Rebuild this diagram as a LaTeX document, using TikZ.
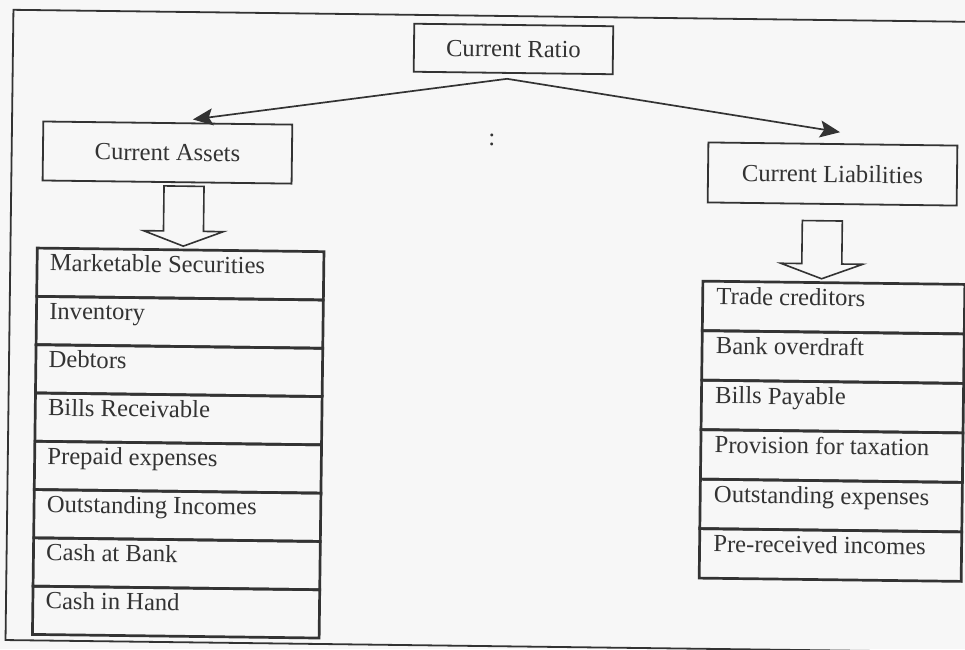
\documentclass[tikz,border=0pt]{standalone}
\usepackage{fontspec}
\setmainfont{Liberation Serif}
\usetikzlibrary{calc,arrows.meta}
\definecolor{ink}{gray}{0.2}
\definecolor{paper}{gray}{0.97}
\begin{document}
\begin{tikzpicture}[x=1pt,y=-1pt,
  every node/.style={font=\fontsize{24.6}{29}\selectfont, text=ink},
  frame/.style={draw=ink, line width=1.8pt},
  topbox/.style={draw=ink, line width=1.8pt, inner sep=0pt},
  rowbox/.style={draw=ink, line width=2.7pt, inner sep=0pt, anchor=north west},
  itemtext/.style={anchor=base west, inner sep=0pt},
  link/.style={draw=ink, line width=1.7pt, -{Stealth[length=20pt,width=17pt,inset=4pt]}},
  blockarrow/.style={draw=ink, line width=1.6pt, fill=paper, line join=miter}]
\fill[paper] (0,0) rectangle (965,649);
\useasboundingbox (0,0) rectangle (965,649);
\clip (0,0) rectangle (965,649);
\begin{scope}[transform canvas={rotate around={-0.72:(482,325)}}]
  % outer frame
  \draw[frame] (9.5,15.7) rectangle (990,646);

  % headings
  \node[topbox, minimum width=199pt, minimum height=48pt] (cr) at (510,48.6) {Current Ratio};
  \node[topbox, minimum width=249pt, minimum height=59pt] (ca) at (165.3,156.5) {Current Assets};
  \node[topbox, minimum width=249pt, minimum height=60pt] (cl) at (830.6,169.6) {Current Liabilities};
  \node[inner sep=0pt] (sep) at (489.6,140.2) {:};

  % split arrows
  \coordinate (apex) at ($(cr.south)+(-6,5)$);
  \coordinate (caEnd) at ($(ca.north)+(25,-3)$);
  \coordinate (clEnd) at ($(cl.north)+(7,-11)$);
  \draw[link] (apex) -- (caEnd);
  \draw[link] (apex) -- (clEnd);

  % block arrows down to the lists
  \coordinate (caOut) at ($(ca.south)+(17,3)$);
  \draw[blockarrow] (caOut) ++(-20,0) -- ++(0,45) -- ++(-20,0) -- ++(40,15)
    -- ++(40,-15) -- ++(-20,0) -- ++(0,-45) -- cycle;
  \coordinate (clOut) at ($(cl.south)+(-9.6,16)$);
  \draw[blockarrow] (clOut) ++(-20,0) -- ++(0,43) -- ++(-21,0) -- ++(41,15)
    -- ++(41,-15) -- ++(-21,0) -- ++(0,-43) -- cycle;

  % current assets list
  \foreach \t [count=\i] in {Marketable Securities, Inventory, Debtors,
      Bills Receivable, Prepaid expenses, Outstanding Incomes, Cash at Bank, Cash in Hand} {
    \node[rowbox, minimum width=286.7pt, minimum height=48.3pt] (asset\i) at (35,{252.3+(\i-1)*48.3}) {};
    \node[itemtext] (assettext\i) at ($(asset\i.north west)+(14,24)$) {\t};
  }

  % current liabilities list
  \foreach \t [count=\i] in {Trade creditors, Bank overdraft, Bills Payable,
      Provision for taxation, Outstanding expenses, Pre-received incomes} {
    \node[rowbox, minimum width=262pt, minimum height=49.5pt] (liab\i) at (701,{277+(\i-1)*49.5}) {};
    \node[itemtext] (liabtext\i) at ($(liab\i.north west)+(15,24.5)$) {\t};
  }
\end{scope}
\end{tikzpicture}
\end{document}
